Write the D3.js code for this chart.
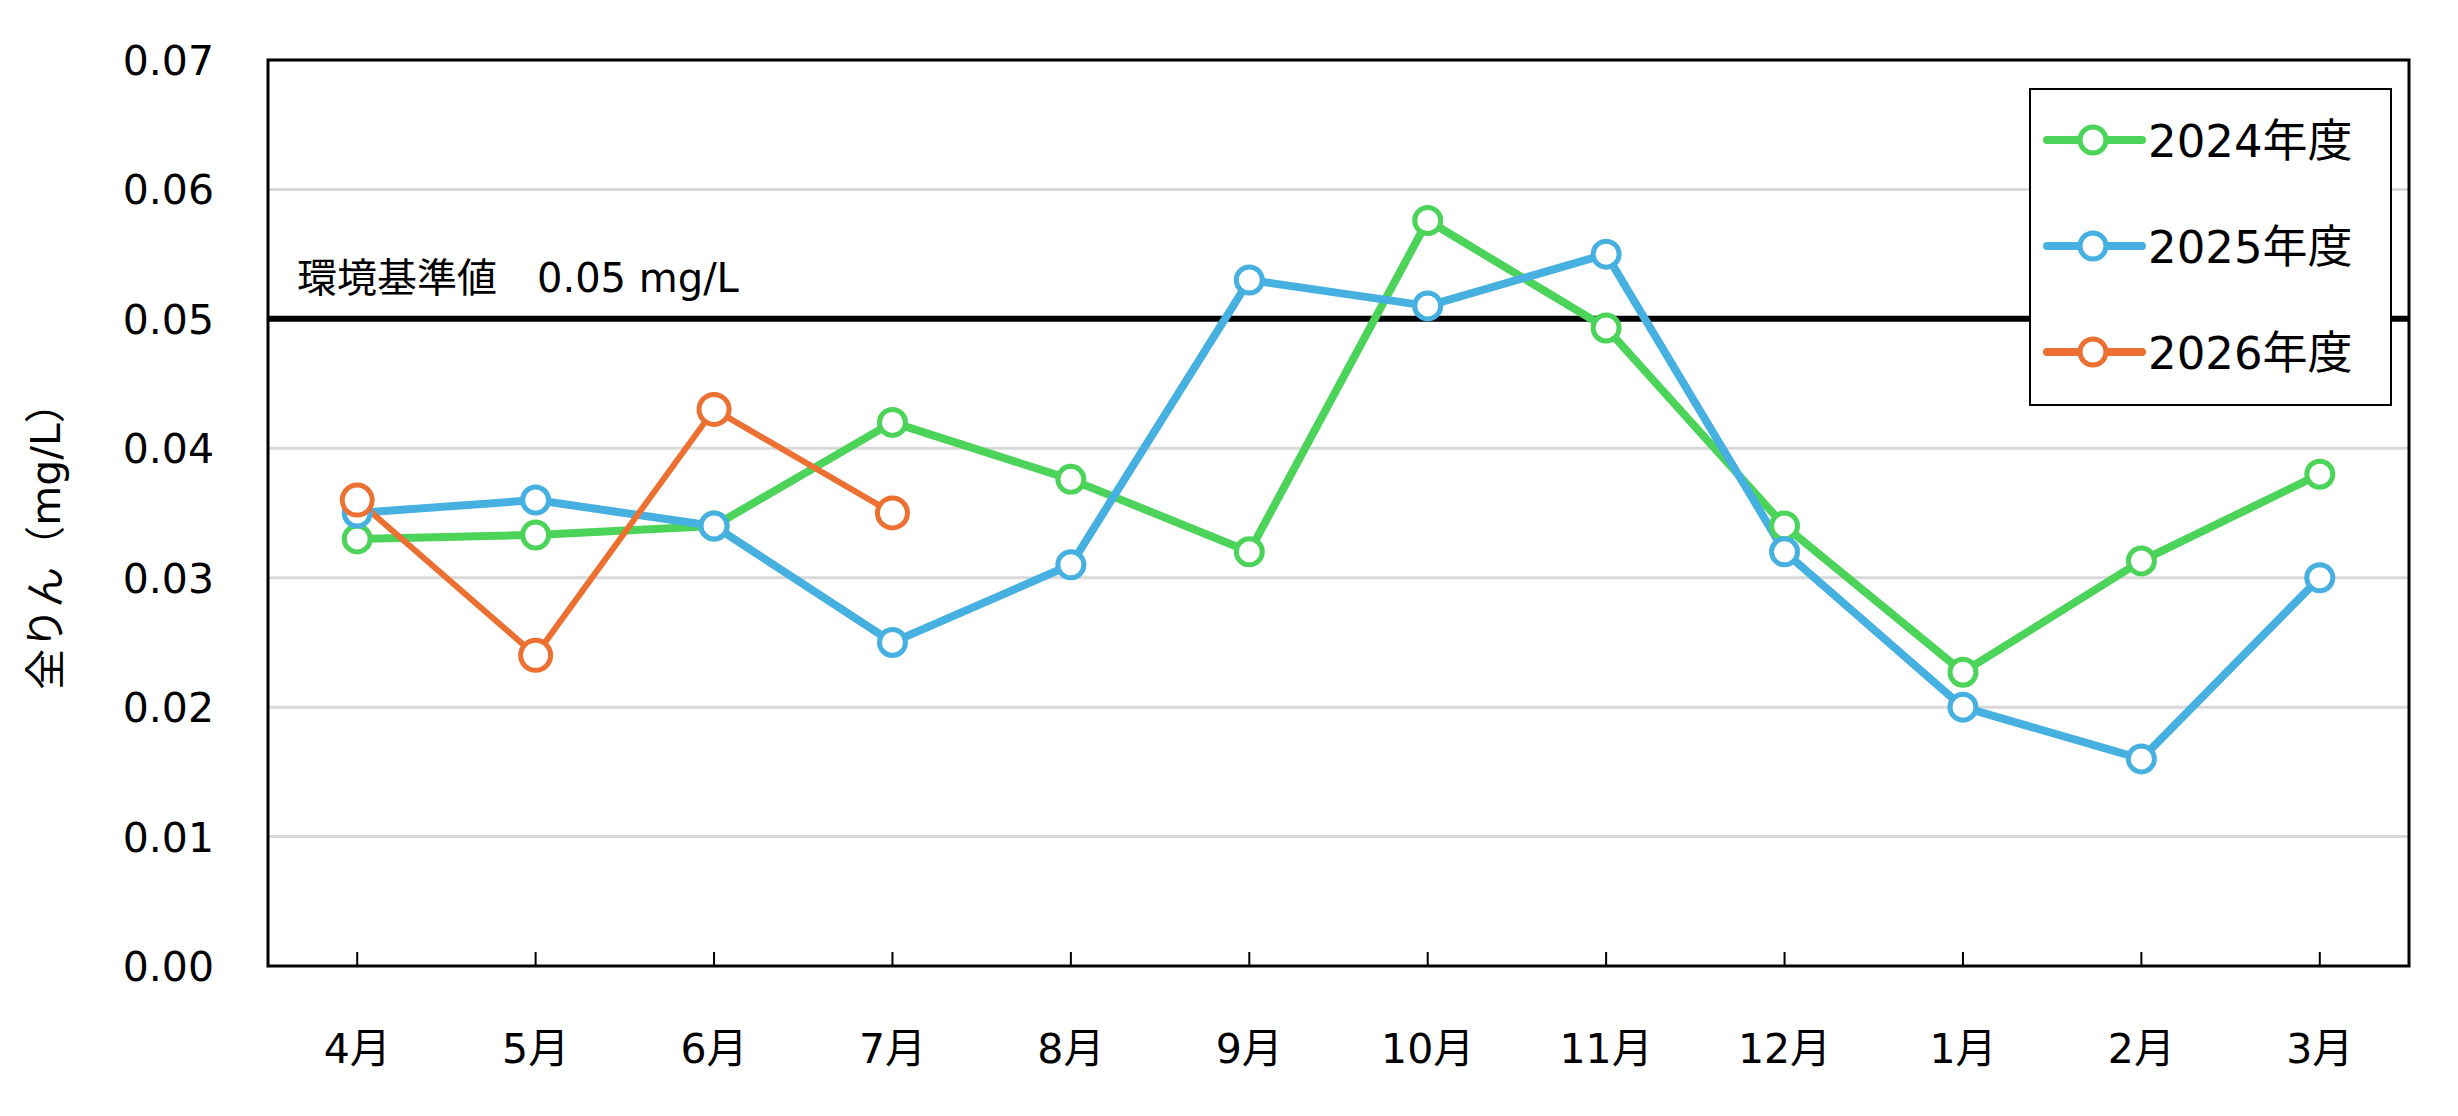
<!DOCTYPE html>
<html><head><meta charset="utf-8">
<script src="https://cdn.jsdelivr.net/npm/d3@7"></script>
<style>body{margin:0;background:#fff}svg{font-family:"DejaVu Sans",Verdana,"Noto Sans CJK JP",sans-serif}</style>
</head><body><svg id="c" width="2458" height="1116"></svg>
<script>
var months = ['4月','5月','6月','7月','8月','9月','10月','11月','12月','1月','2月','3月'];
var yTicks = [0, 0.01, 0.02, 0.03, 0.04, 0.05, 0.06, 0.07];
var fy2024 = [0.033, 0.0333, 0.034, 0.042, 0.0376, 0.032, 0.0576, 0.0493, 0.034, 0.0227, 0.0313, 0.038];
var fy2025 = [0.035, 0.036, 0.034, 0.025, 0.031, 0.053, 0.051, 0.055, 0.032, 0.020, 0.016, 0.030];
var fy2026 = [0.036, 0.024, 0.043, 0.035];
var seriesNames = ['2024年度', '2025年度', '2026年度'];
var colors = ['#4cd35a', '#46b0e1', '#eb7031'];
var standard = 0.05;

var svg = d3.select('#c');
var pLeft = 268, pRight = 2409, pTop = 60, pBottom = 966;
var x = d3.scaleBand().domain(months).range([pLeft, pRight]);
var y = d3.scaleLinear().domain([0, 0.07]).range([pBottom, pTop]);
var cx = function(m) { return x(m) + x.bandwidth() / 2; };

// grid
svg.selectAll('.grid').data(yTicks.slice(1)).enter().append('line')
  .attr('x1', pLeft).attr('x2', pRight).attr('y1', y).attr('y2', y)
  .attr('stroke', '#d9d9d9').attr('stroke-width', 3);

// y labels
svg.selectAll('.yl').data(yTicks).enter().append('text')
  .attr('x', 214).attr('y', function(d) { return y(d) + 15; })
  .attr('text-anchor', 'end').attr('font-size', 41).text(function(d) { return d.toFixed(2); });

// x ticks and labels
svg.selectAll('.xt').data(months).enter().append('line')
  .attr('x1', cx).attr('x2', cx).attr('y1', pBottom - 14).attr('y2', pBottom)
  .attr('stroke', '#000').attr('stroke-width', 2);
svg.selectAll('.xl').data(months).enter().append('text')
  .attr('x', cx).attr('y', 1063).attr('text-anchor', 'middle').attr('font-size', 41)
  .text(function(d) { return d; });

// frame
svg.append('rect').attr('x', pLeft).attr('y', pTop).attr('width', pRight - pLeft).attr('height', pBottom - pTop)
  .attr('fill', 'none').attr('stroke', '#000').attr('stroke-width', 3);

// standard line
svg.append('line').attr('x1', pLeft).attr('x2', pRight).attr('y1', y(standard)).attr('y2', y(standard))
  .attr('stroke', '#000').attr('stroke-width', 6);
svg.append('text').attr('x', 297).attr('y', 292).attr('font-size', 40)
  .text('環境基準値　0.05 mg/L');

// y title
svg.append('text').attr('transform', 'translate(60,536) rotate(-90)').attr('text-anchor', 'middle')
  .attr('font-size', 41).text('全りん（mg/L）');

var line = d3.line().x(function(d, i) { return cx(months[i]); }).y(function(d) { return y(d); });
var all = [fy2024, fy2025, fy2026];
var widths = [8, 8, 6];
all.forEach(function(s, k) {
  svg.append('path').attr('d', line(s)).attr('fill', 'none').attr('stroke', colors[k])
    .attr('stroke-width', widths[k]).attr('stroke-linejoin', 'round');
});
all.forEach(function(s, k) {
  svg.selectAll('.p' + k).data(s).enter().append('circle')
    .attr('cx', function(d, i) { return cx(months[i]); }).attr('cy', y)
    .attr('r', k == 2 ? 15 : 13).attr('fill', '#fff').attr('stroke', colors[k]).attr('stroke-width', 5);
});

// legend
var lg = svg.append('g');
lg.append('rect').attr('x', 2030).attr('y', 89).attr('width', 361).attr('height', 316)
  .attr('fill', '#fff').attr('stroke', '#000').attr('stroke-width', 2);
seriesNames.forEach(function(n, k) {
  var ly = 140 + k * 106;
  lg.append('line').attr('x1', 2047).attr('x2', 2142).attr('y1', ly).attr('y2', ly)
    .attr('stroke', colors[k]).attr('stroke-width', 8).attr('stroke-linecap', 'round');
  lg.append('circle').attr('cx', 2093).attr('cy', ly).attr('r', 13).attr('fill', '#fff')
    .attr('stroke', colors[k]).attr('stroke-width', 5);
  lg.append('text').attr('x', 2148).attr('y', ly + 17).attr('font-size', 45).text(n);
});
</script></body></html>
